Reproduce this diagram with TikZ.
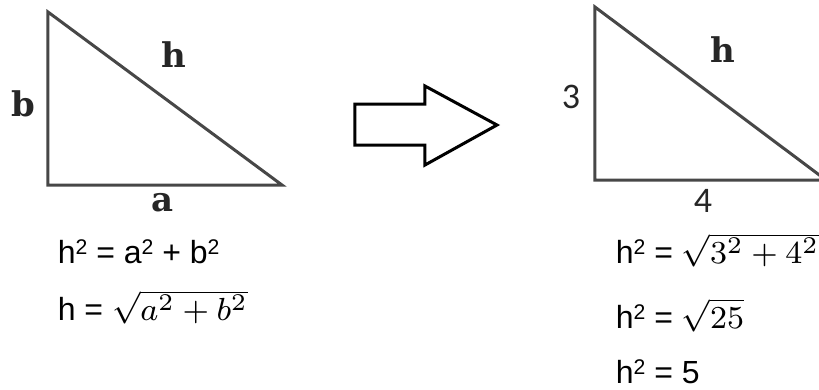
\documentclass[tikz,border=0pt]{standalone}
\usepackage[no-math]{fontspec}
\setmainfont{Liberation Sans}
\newfontfamily\slabfont{DejaVu Serif}
\newfontfamily\calfont{Carlito}
\newcommand\sqtwo{\raisebox{2.1pt}{\fontsize{5.3}{6}\selectfont 2}}
\tikzset{
  edge/.style={draw=black!72, line width=0.75pt, line join=miter},
  side/.style={font=\slabfont\bfseries\fontsize{8.5}{10}\selectfont, text=black!85, inner sep=0pt},
  num/.style={font=\calfont\fontsize{9}{11}\selectfont, text=black!85, inner sep=0pt},
  eqn/.style={font=\fontsize{8}{10}\selectfont, anchor=base west, inner sep=0pt},
  bigarrow/.style={draw=black, line width=0.75pt, fill=white, line join=miter},
}
\begin{document}
\begin{tikzpicture}[x=0.25pt, y=-0.25pt]
\useasboundingbox (0,0) rectangle (819,389);
\clip (0,0) rectangle (819,389);
% left triangle
\coordinate (lt) at (48,12);
\coordinate (lc) at (48,185);
\coordinate (lr) at (282,185);
\draw[edge] (lt) -- (lc) -- (lr) -- cycle;
\node[side] (lb) at (23,104) {b};
\node[side] (lh) at (174,55) {h};
\node[side] (la) at (163,203) {a};

% block arrow
\draw[bigarrow] (355,104) -- (425,104) -- (425,86) -- (497,125)
  -- (425,165) -- (425,145) -- (355,145) -- cycle;

% right triangle
\coordinate (rt) at (595,7);
\coordinate (rc) at (595,180);
\coordinate (rr) at (826,180);
\draw[edge] (rt) -- (rc) -- (rr) -- cycle;
\node[num] (r3) at (571,97) {3};
\node[side] (rh) at (723,50) {h};
\node[num] (r4) at (703,201) {4};

% equations
\node[eqn] (e1) at (57,263) {h\sqtwo{} = a\sqtwo{} + b\sqtwo};
\node[eqn] (e2) at (57,320) {h = $\sqrt{a^2+b^2}$};
\node[eqn] (f1) at (615,263) {h\sqtwo{} = $\sqrt{3^2+4^2}$};
\node[eqn] (f2) at (615,328) {h\sqtwo{} = $\sqrt{25}$};
\node[eqn] (f3) at (615,383) {h\sqtwo{} = 5};
\end{tikzpicture}
\end{document}
